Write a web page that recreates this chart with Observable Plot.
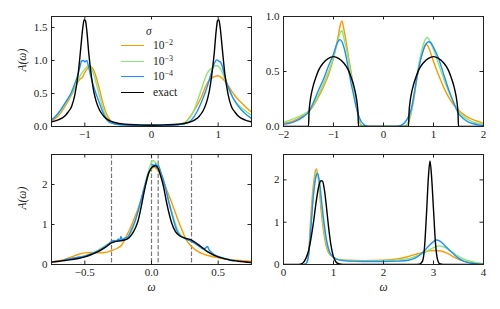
<!DOCTYPE html>
<html><head><meta charset="utf-8">
<script src="https://cdn.jsdelivr.net/npm/d3@7"></script>
<script src="https://cdn.jsdelivr.net/npm/@observablehq/plot@0.6"></script>
<style>
body{margin:0;background:#fff;}
#chart{position:relative;width:500px;height:309px;font-family:"Liberation Serif","DejaVu Serif",serif;background:#fff;overflow:hidden;}
.panel{position:absolute;}
.panel svg text{font-family:"Liberation Serif","DejaVu Serif",serif;}
.leg{position:absolute;font-size:11.5px;line-height:1;color:#222;white-space:nowrap;}
.leg sup{font-size:8px;vertical-align:4px;line-height:0;}
.sw{position:absolute;height:0;border-top:1.6px solid;width:23px;}
</style></head><body><div id="chart"></div>
<script>
// ---- series names and colours ----
const seriesNames = ["1e-2", "1e-3", "1e-4", "exact"];
const seriesColors = ["#ff9900", "#88e878", "#1e8fff", "#000000"];

// ---- tick values ----
const tlXTicks = [-1, 0, 1], tlYTicks = [0, 0.5, 1, 1.5];
const trXTicks = [-2, -1, 0, 1, 2], trYTicks = [0, 0.5, 1];
const blXTicks = [-0.5, 0, 0.5], blYTicks = [0, 1, 2];
const brXTicks = [0, 1, 2, 3, 4], brYTicks = [0, 1, 2];
const blDashes = [-0.3, 0, 0.05, 0.3];

// ---- top-left panel ----
const tlOrange = [[-1.5,0.08],[-1.4,0.16],[-1.3,0.3],[-1.2,0.48],[-1.15,0.58],[-1.1,0.68],[-1.07,0.72],[-1.04,0.74],[-1.0,0.82],[-0.96,0.88],[-0.92,0.91],[-0.88,0.88],[-0.84,0.78],[-0.8,0.64],[-0.77,0.52],[-0.73,0.36],[-0.69,0.23],[-0.65,0.14],[-0.6,0.07],[-0.55,0.04],[-0.45,0.03],[-0.2,0.02],[0,0.02],[0.2,0.02],[0.4,0.03],[0.45,0.04],[0.5,0.06],[0.55,0.11],[0.6,0.18],[0.65,0.26],[0.7,0.35],[0.75,0.45],[0.8,0.58],[0.85,0.68],[0.9,0.73],[0.95,0.76],[1.0,0.77],[1.05,0.74],[1.1,0.69],[1.15,0.62],[1.2,0.54],[1.25,0.47],[1.3,0.41],[1.35,0.36],[1.4,0.31],[1.45,0.26],[1.5,0.22]];
const tlGreen = [[-1.5,0.11],[-1.4,0.19],[-1.3,0.33],[-1.2,0.5],[-1.15,0.6],[-1.1,0.71],[-1.05,0.8],[-1.0,0.87],[-0.96,0.91],[-0.93,0.92],[-0.9,0.88],[-0.86,0.77],[-0.82,0.62],[-0.78,0.46],[-0.74,0.31],[-0.7,0.19],[-0.65,0.1],[-0.6,0.06],[-0.5,0.03],[-0.3,0.02],[0,0.02],[0.3,0.02],[0.45,0.04],[0.55,0.1],[0.6,0.17],[0.65,0.28],[0.7,0.42],[0.75,0.57],[0.8,0.72],[0.85,0.83],[0.9,0.88],[0.95,0.92],[0.99,0.92],[1.03,0.88],[1.07,0.8],[1.11,0.69],[1.15,0.58],[1.2,0.47],[1.25,0.39],[1.3,0.33],[1.4,0.24],[1.5,0.17]];
const tlBlue = [[-1.5,0.1],[-1.45,0.14],[-1.4,0.2],[-1.35,0.27],[-1.3,0.35],[-1.25,0.43],[-1.2,0.52],[-1.15,0.65],[-1.1,0.8],[-1.07,0.92],[-1.05,0.99],[-1.02,1.0],[-1.0,0.98],[-0.97,1.0],[-0.95,0.93],[-0.92,0.8],[-0.88,0.65],[-0.84,0.52],[-0.8,0.41],[-0.75,0.27],[-0.7,0.15],[-0.65,0.08],[-0.6,0.05],[-0.5,0.03],[-0.3,0.02],[0,0.02],[0.3,0.02],[0.5,0.04],[0.6,0.1],[0.68,0.22],[0.74,0.35],[0.8,0.5],[0.85,0.65],[0.9,0.82],[0.94,0.95],[0.98,1.01],[1.01,0.99],[1.04,0.97],[1.07,0.88],[1.1,0.76],[1.14,0.63],[1.18,0.53],[1.22,0.44],[1.3,0.31],[1.4,0.2],[1.5,0.12]];
const tlExact = [[-1.5,0.07],[-1.4,0.1],[-1.3,0.16],[-1.25,0.22],[-1.2,0.3],[-1.15,0.48],[-1.1,0.8],[-1.06,1.2],[-1.03,1.5],[-1.01,1.62],[-0.99,1.6],[-0.97,1.45],[-0.94,1.1],[-0.9,0.75],[-0.87,0.55],[-0.83,0.38],[-0.78,0.25],[-0.72,0.16],[-0.65,0.1],[-0.55,0.06],[-0.4,0.035],[-0.2,0.025],[0,0.02],[0.2,0.025],[0.4,0.035],[0.55,0.06],[0.65,0.1],[0.72,0.16],[0.78,0.25],[0.83,0.38],[0.87,0.55],[0.9,0.75],[0.94,1.1],[0.97,1.45],[0.99,1.6],[1.01,1.62],[1.03,1.5],[1.06,1.2],[1.1,0.8],[1.15,0.48],[1.2,0.3],[1.25,0.22],[1.3,0.16],[1.4,0.1],[1.5,0.07]];

// ---- top-right panel ----
const trOrange = [[-2,0.03],[-1.8,0.05],[-1.6,0.1],[-1.5,0.13],[-1.4,0.19],[-1.3,0.27],[-1.2,0.36],[-1.1,0.47],[-1.0,0.62],[-0.95,0.72],[-0.9,0.84],[-0.86,0.93],[-0.83,0.96],[-0.8,0.9],[-0.75,0.78],[-0.7,0.63],[-0.65,0.5],[-0.6,0.36],[-0.55,0.23],[-0.5,0.1],[-0.47,0.03],[-0.44,0.005],[-0.4,0],[0.4,0],[0.45,0.01],[0.5,0.04],[0.55,0.12],[0.6,0.23],[0.65,0.38],[0.7,0.52],[0.75,0.63],[0.8,0.7],[0.85,0.75],[0.9,0.72],[0.95,0.66],[1.0,0.59],[1.1,0.47],[1.2,0.36],[1.3,0.27],[1.4,0.2],[1.5,0.15],[1.6,0.11],[1.7,0.08],[1.8,0.06],[1.9,0.045],[2,0.03]];
const trGreen = [[-2,0.04],[-1.8,0.07],[-1.6,0.11],[-1.5,0.14],[-1.4,0.2],[-1.3,0.29],[-1.2,0.39],[-1.1,0.5],[-1.0,0.63],[-0.95,0.72],[-0.9,0.8],[-0.86,0.86],[-0.83,0.87],[-0.8,0.82],[-0.75,0.72],[-0.7,0.6],[-0.65,0.48],[-0.6,0.35],[-0.55,0.22],[-0.5,0.1],[-0.46,0.03],[-0.42,0.005],[-0.38,0],[0.38,0],[0.45,0.01],[0.5,0.04],[0.55,0.12],[0.6,0.25],[0.65,0.4],[0.7,0.55],[0.75,0.66],[0.8,0.75],[0.85,0.8],[0.88,0.81],[0.92,0.78],[1.0,0.7],[1.1,0.57],[1.2,0.44],[1.3,0.32],[1.4,0.22],[1.5,0.14],[1.6,0.09],[1.7,0.06],[1.8,0.04],[1.9,0.03],[2,0.02]];
const trBlue = [[-2,0.02],[-1.8,0.04],[-1.6,0.09],[-1.5,0.13],[-1.4,0.22],[-1.3,0.33],[-1.2,0.43],[-1.1,0.55],[-1.0,0.66],[-0.95,0.73],[-0.9,0.78],[-0.87,0.79],[-0.83,0.77],[-0.78,0.7],[-0.72,0.57],[-0.66,0.42],[-0.6,0.29],[-0.55,0.18],[-0.5,0.1],[-0.45,0.05],[-0.4,0.02],[-0.35,0.005],[-0.3,0],[0.25,0],[0.35,0.01],[0.45,0.05],[0.55,0.15],[0.6,0.26],[0.65,0.4],[0.7,0.52],[0.75,0.62],[0.8,0.7],[0.85,0.75],[0.9,0.77],[0.95,0.76],[1.0,0.72],[1.1,0.62],[1.2,0.48],[1.3,0.34],[1.4,0.22],[1.5,0.12],[1.6,0.07],[1.7,0.04],[1.8,0.025],[1.9,0.015],[2,0.01]];
const trExact = [[-2,0],[-1.5,0],[-1.49,0.12],[-1.47,0.22],[-1.45,0.28],[-1.4,0.38],[-1.35,0.45],[-1.3,0.51],[-1.2,0.58],[-1.1,0.62],[-1.0,0.635],[-0.9,0.62],[-0.8,0.58],[-0.7,0.51],[-0.65,0.45],[-0.6,0.38],[-0.55,0.28],[-0.53,0.22],[-0.51,0.12],[-0.5,0],[0.5,0],[0.51,0.12],[0.53,0.22],[0.55,0.28],[0.6,0.38],[0.65,0.45],[0.7,0.51],[0.8,0.58],[0.9,0.62],[1.0,0.635],[1.1,0.62],[1.2,0.58],[1.3,0.51],[1.35,0.45],[1.4,0.38],[1.45,0.28],[1.47,0.22],[1.49,0.12],[1.5,0],[2,0]];

// ---- bottom-left panel ----
const blOrange = [[-0.75,0.06],[-0.7,0.09],[-0.65,0.13],[-0.6,0.19],[-0.55,0.25],[-0.5,0.29],[-0.45,0.3],[-0.4,0.29],[-0.35,0.3],[-0.3,0.35],[-0.26,0.4],[-0.22,0.5],[-0.19,0.7],[-0.16,0.9],[-0.13,1.15],[-0.1,1.4],[-0.07,1.7],[-0.04,2.05],[-0.01,2.35],[0.02,2.43],[0.05,2.35],[0.08,2.15],[0.11,1.9],[0.14,1.65],[0.17,1.38],[0.2,1.1],[0.23,0.85],[0.26,0.62],[0.3,0.45],[0.35,0.32],[0.4,0.25],[0.5,0.17],[0.6,0.12],[0.75,0.08]];
const blGreen = [[-0.65,0.12],[-0.6,0.15],[-0.5,0.22],[-0.45,0.28],[-0.4,0.36],[-0.35,0.46],[-0.3,0.56],[-0.26,0.6],[-0.22,0.63],[-0.18,0.68],[-0.15,0.82],[-0.12,1.1],[-0.09,1.45],[-0.06,1.85],[-0.03,2.25],[0.0,2.55],[0.01,2.6],[0.03,2.55],[0.05,2.45],[0.07,2.3],[0.09,2.1],[0.11,1.85],[0.13,1.6],[0.15,1.35],[0.17,1.12],[0.19,0.92],[0.21,0.78],[0.24,0.68],[0.28,0.6],[0.32,0.54],[0.36,0.45],[0.4,0.35],[0.45,0.27],[0.5,0.2],[0.55,0.15],[0.62,0.1]];
const blBlue = [[-0.65,0.12],[-0.6,0.15],[-0.55,0.18],[-0.5,0.21],[-0.45,0.27],[-0.4,0.34],[-0.35,0.44],[-0.32,0.52],[-0.3,0.57],[-0.28,0.6],[-0.26,0.58],[-0.25,0.64],[-0.24,0.58],[-0.23,0.7],[-0.22,0.62],[-0.2,0.66],[-0.18,0.68],[-0.16,0.8],[-0.14,0.95],[-0.12,1.12],[-0.1,1.35],[-0.08,1.6],[-0.06,1.85],[-0.04,2.1],[-0.02,2.3],[0.0,2.42],[0.01,2.5],[0.02,2.44],[0.03,2.52],[0.04,2.42],[0.05,2.48],[0.07,2.3],[0.09,2.1],[0.11,1.85],[0.13,1.55],[0.15,1.3],[0.17,1.05],[0.19,0.85],[0.21,0.74],[0.24,0.67],[0.27,0.62],[0.3,0.58],[0.33,0.52],[0.36,0.45],[0.38,0.4],[0.4,0.4],[0.42,0.45],[0.43,0.38],[0.45,0.3],[0.48,0.23],[0.52,0.18],[0.56,0.14],[0.6,0.1],[0.62,0.09]];
const blExact = [[-0.75,0.06],[-0.65,0.1],[-0.55,0.15],[-0.5,0.19],[-0.45,0.25],[-0.4,0.32],[-0.35,0.42],[-0.3,0.54],[-0.26,0.58],[-0.22,0.6],[-0.18,0.64],[-0.15,0.74],[-0.12,0.92],[-0.1,1.1],[-0.08,1.4],[-0.05,1.9],[-0.02,2.3],[0.01,2.45],[0.03,2.47],[0.05,2.4],[0.07,2.2],[0.09,1.95],[0.11,1.6],[0.13,1.3],[0.15,1.05],[0.18,0.82],[0.21,0.72],[0.25,0.66],[0.3,0.61],[0.33,0.55],[0.37,0.45],[0.42,0.32],[0.47,0.23],[0.55,0.14],[0.65,0.08],[0.75,0.05]];

// ---- bottom-right panel ----
const brOrange = [[0.4,0],[0.45,0.02],[0.5,0.25],[0.55,1.2],[0.6,1.9],[0.64,2.22],[0.66,2.26],[0.7,2.0],[0.75,1.3],[0.8,0.8],[0.85,0.45],[0.9,0.28],[1.0,0.17],[1.1,0.12],[1.3,0.1],[1.6,0.09],[2.0,0.1],[2.3,0.14],[2.5,0.19],[2.7,0.26],[2.85,0.31],[3.0,0.33],[3.15,0.32],[3.3,0.25],[3.45,0.15],[3.6,0.08],[3.8,0.04],[4.0,0.02]];
const brGreen = [[0.4,0],[0.45,0.02],[0.5,0.22],[0.55,1.0],[0.6,1.75],[0.65,2.15],[0.67,2.2],[0.71,1.95],[0.76,1.35],[0.81,0.85],[0.86,0.48],[0.91,0.29],[1.0,0.17],[1.1,0.12],[1.3,0.09],[1.6,0.08],[2.0,0.09],[2.3,0.11],[2.5,0.14],[2.7,0.22],[2.85,0.3],[3.0,0.4],[3.1,0.44],[3.2,0.42],[3.3,0.35],[3.45,0.23],[3.6,0.13],[3.75,0.07],[3.9,0.03],[4.0,0.02]];
const brBlue = [[0.4,0],[0.45,0.02],[0.5,0.2],[0.55,0.9],[0.6,1.65],[0.65,2.08],[0.68,2.15],[0.72,1.95],[0.77,1.4],[0.82,0.9],[0.87,0.52],[0.92,0.3],[1.0,0.17],[1.1,0.11],[1.3,0.08],[1.6,0.07],[2.0,0.07],[2.3,0.08],[2.5,0.1],[2.65,0.16],[2.8,0.3],[2.9,0.43],[3.0,0.54],[3.06,0.58],[3.12,0.56],[3.2,0.48],[3.3,0.36],[3.4,0.25],[3.5,0.15],[3.6,0.08],[3.75,0.03],[3.9,0.01],[4.0,0]];
const brExact = [[0,0],[0.3,0],[0.38,0.03],[0.45,0.15],[0.5,0.32],[0.55,0.62],[0.6,1.0],[0.65,1.45],[0.7,1.82],[0.75,1.98],[0.78,1.97],[0.82,1.75],[0.86,1.35],[0.9,0.9],[0.95,0.45],[1.0,0.18],[1.05,0.06],[1.1,0.02],[1.2,0],[2.6,0],[2.72,0.01],[2.78,0.08],[2.82,0.4],[2.86,1.2],[2.9,2.1],[2.93,2.45],[2.96,2.1],[3.0,1.3],[3.04,0.5],[3.08,0.12],[3.12,0.02],[3.2,0],[4,0]];

const FONT = "'Liberation Serif', 'DejaVu Serif', serif";
const FS = 11;
const chart = document.getElementById("chart");

function panel(o) {
  const innerW = o.width - o.ml - o.mr, innerH = o.height - o.mt - o.mb;
  const TL = 3.5;
  const marks = [];
  if (o.dashes) marks.push(Plot.ruleX(o.dashes, {x: d => d, stroke: "#777", strokeWidth: 1.2, strokeDasharray: "4.5,2"}));
  o.series.forEach((s, i) => marks.push(Plot.line(s, {x: d => d[0], y: d => d[1], stroke: seriesColors[i], strokeWidth: 1.4, curve: "monotone-x", clip: true})));
  marks.push(
    Plot.tickX(o.xt, {x: d => d, insetTop: innerH - TL, stroke: "#222"}),
    Plot.tickX(o.xt, {x: d => d, insetBottom: innerH - TL, stroke: "#222"}),
    Plot.tickY(o.yt, {y: d => d, insetRight: innerW - TL, stroke: "#222"}),
    Plot.tickY(o.yt, {y: d => d, insetLeft: innerW - TL, stroke: "#222"}),
    Plot.frame({stroke: "#222", strokeWidth: 1})
  );
  if (o.ylabel) marks.push(Plot.text([o.ylabel], {text: d => d, frameAnchor: "left", dx: -29, rotate: -90, fontStyle: "italic", fontSize: FS + 0.5, fill: "#222"}));
  if (o.xlabel) marks.push(Plot.text([o.xlabel], {text: d => d, frameAnchor: "bottom", dy: 26, fontStyle: "italic", fontSize: FS + 0.5, fill: "#222"}));
  const p = Plot.plot({
    width: o.width, height: o.height,
    marginLeft: o.ml, marginRight: o.mr, marginTop: o.mt, marginBottom: o.mb,
    style: {fontFamily: FONT, fontSize: FS + "px", color: "#222", background: "transparent", overflow: "visible"},
    x: {domain: o.xd, ticks: o.xt, tickFormat: d3.format(o.xf), tickSize: 0, tickPadding: 4, label: null},
    y: {domain: o.yd, ticks: o.yt, tickFormat: d3.format(o.yf), tickSize: 0, tickPadding: 4, label: null},
    marks
  });
  const div = document.createElement("div");
  div.className = "panel";
  div.style.left = o.left + "px"; div.style.top = o.top + "px";
  div.appendChild(p);
  chart.appendChild(div);
}

panel({left: 0, top: 0, width: 255, height: 150, ml: 51, mr: 4, mt: 16, mb: 24,
  xd: [-1.5, 1.5], yd: [0, 1.667], xt: tlXTicks, yt: tlYTicks, xf: "d", yf: ".1f",
  series: [tlOrange, tlGreen, tlBlue, tlExact], ylabel: "A(ω)"});
panel({left: 250, top: 0, width: 250, height: 150, ml: 33, mr: 17, mt: 16, mb: 24,
  xd: [-2, 2], yd: [0, 1.0], xt: trXTicks, yt: trYTicks, xf: "d", yf: ".1f",
  series: [trOrange, trGreen, trBlue, trExact]});
panel({left: 0, top: 138, width: 255, height: 171, ml: 51, mr: 4, mt: 16, mb: 45,
  xd: [-0.75, 0.75], yd: [0, 2.75], xt: blXTicks, yt: blYTicks, xf: ".1f", yf: "d",
  series: [blOrange, blGreen, blBlue, blExact], dashes: blDashes, ylabel: "A(ω)", xlabel: "ω"});
panel({left: 250, top: 138, width: 250, height: 171, ml: 33, mr: 17, mt: 16, mb: 45,
  xd: [0, 4], yd: [0, 2.6], xt: brXTicks, yt: brYTicks, xf: "d", yf: "d",
  series: [brOrange, brGreen, brBlue, brExact], xlabel: "ω"});

// ---- legend (inside top-left panel) ----
const legendLabels = ["10<sup>−2</sup>", "10<sup>−3</sup>", "10<sup>−4</sup>", "exact"];
const title = document.createElement("div");
title.className = "leg";
title.style.left = "146px"; title.style.top = "26px"; title.style.fontStyle = "italic";
title.textContent = "σ";
chart.appendChild(title);
legendLabels.forEach((lab, i) => {
  const yc = 45.5 + i * 15.8;
  const sw = document.createElement("div");
  sw.className = "sw";
  sw.style.left = "121px"; sw.style.top = (yc - 0.8) + "px"; sw.style.borderTopColor = seriesColors[i];
  chart.appendChild(sw);
  const t = document.createElement("div");
  t.className = "leg";
  t.style.left = "153px"; t.style.top = (yc - 5.8) + "px";
  t.innerHTML = lab;
  chart.appendChild(t);
});
</script>
</body></html>
